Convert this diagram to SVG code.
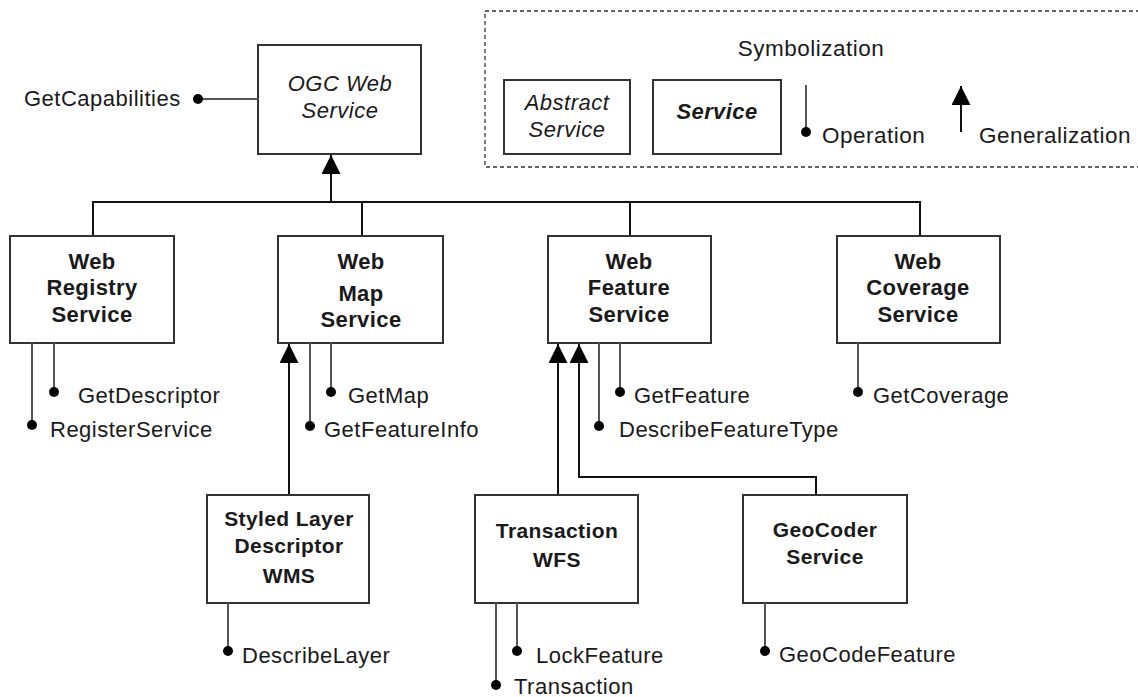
<svg xmlns="http://www.w3.org/2000/svg" width="1138" height="697" viewBox="0 0 1138 697">
<style>
  .box { fill: #fff; stroke: #333; stroke-width: 2; }
  .t { font-family: "Liberation Sans", Arial, sans-serif; font-size: 22px; fill: #1a1a1a; letter-spacing: 0.5px; }
  .b { font-weight: bold; text-anchor: middle; letter-spacing: 0.4px; }
  .s { font-size: 21px; }
  .i { font-style: italic; text-anchor: middle; }
  .lg { font-size: 22.5px; }
  .op { stroke: #555; stroke-width: 2; fill: none; }
  .dot { fill: #000; }
  .gen { stroke: #111; stroke-width: 2; fill: none; }
  .legend { fill: none; stroke: #333; stroke-width: 1.3; stroke-dasharray: 4 3; }
</style>
<defs>
  <marker id="tri" viewBox="0 0 19 19" refX="19" refY="9.5" markerWidth="19" markerHeight="19" markerUnits="userSpaceOnUse" orient="auto">
    <path d="M0,0 L19,9.5 L0,19 Z" fill="#000"/>
  </marker>
</defs>
<rect width="1138" height="697" fill="#fff"/>

<g id="legend">
  <rect class="legend" x="485" y="11" width="670" height="156"/>
  <text class="t lg" x="811" y="56" text-anchor="middle">Symbolization</text>
  <rect class="box" x="504" y="80" width="126" height="74"/>
  <text class="t i" x="567" y="110">Abstract</text>
  <text class="t i" x="567" y="137">Service</text>
  <rect class="box" x="653" y="80" width="128" height="74"/>
  <text class="t b" x="717" y="119" font-style="italic">Service</text>
  <line class="op" x1="806" y1="85" x2="806" y2="132" stroke="#333"/>
  <circle class="dot" cx="806" cy="132" r="5"/>
  <text class="t lg" x="822" y="143">Operation</text>
  <line class="gen" x1="961" y1="132" x2="961" y2="86" marker-end="url(#tri)"/>
  <text class="t lg" x="979" y="143">Generalization</text>
</g>

<g id="connectors">
  <path class="gen" d="M93,236 V202 H920 V236 M362,202 V236 M630,202 V236"/>
  <line class="gen" x1="331" y1="202" x2="331" y2="155" marker-end="url(#tri)"/>
  <line class="gen" x1="289" y1="495" x2="289" y2="344" marker-end="url(#tri)"/>
  <line class="gen" x1="558" y1="495" x2="558" y2="344" marker-end="url(#tri)"/>
  <path class="gen" d="M816,495 V477 H579 V344" marker-end="url(#tri)"/>
</g>

<g id="ogc">
  <rect class="box" x="258" y="45" width="163" height="109"/>
  <text class="t i" x="340" y="91">OGC Web</text>
  <text class="t i" x="340" y="118">Service</text>
  <line class="op" x1="198" y1="99" x2="258" y2="99"/>
  <circle class="dot" cx="198" cy="99" r="5"/>
  <text class="t" x="24" y="106">GetCapabilities</text>
</g>

<g id="wrs">
  <rect class="box" x="10" y="236" width="164" height="107"/>
  <text class="t b" x="92" y="269">Web</text>
  <text class="t b" x="92" y="295">Registry</text>
  <text class="t b" x="92" y="322">Service</text>
  <line class="op" x1="32" y1="343" x2="32" y2="425"/>
  <circle class="dot" cx="32" cy="425" r="5"/>
  <line class="op" x1="54" y1="343" x2="54" y2="392"/>
  <circle class="dot" cx="54" cy="392" r="5"/>
  <text class="t" x="78" y="403">GetDescriptor</text>
  <text class="t" x="50" y="437">RegisterService</text>
</g>

<g id="wms">
  <rect class="box" x="278" y="236" width="165" height="107"/>
  <text class="t b" x="361" y="269">Web</text>
  <text class="t b" x="361" y="301">Map</text>
  <text class="t b" x="361" y="327">Service</text>
  <line class="op" x1="310" y1="343" x2="310" y2="426"/>
  <circle class="dot" cx="310" cy="426" r="5"/>
  <line class="op" x1="331" y1="343" x2="331" y2="392"/>
  <circle class="dot" cx="331" cy="392" r="5"/>
  <text class="t" x="348" y="403">GetMap</text>
  <text class="t" x="324" y="437">GetFeatureInfo</text>
</g>

<g id="wfs">
  <rect class="box" x="548" y="236" width="163" height="107"/>
  <text class="t b" x="629" y="269">Web</text>
  <text class="t b" x="629" y="295">Feature</text>
  <text class="t b" x="629" y="322">Service</text>
  <line class="op" x1="599" y1="343" x2="599" y2="426"/>
  <circle class="dot" cx="599" cy="426" r="5"/>
  <line class="op" x1="620" y1="343" x2="620" y2="392"/>
  <circle class="dot" cx="620" cy="392" r="5"/>
  <text class="t" x="634" y="403">GetFeature</text>
  <text class="t" x="619" y="437">DescribeFeatureType</text>
</g>

<g id="wcs">
  <rect class="box" x="837" y="236" width="163" height="107"/>
  <text class="t b" x="918" y="269">Web</text>
  <text class="t b" x="918" y="295">Coverage</text>
  <text class="t b" x="918" y="322">Service</text>
  <line class="op" x1="858" y1="343" x2="858" y2="392"/>
  <circle class="dot" cx="858" cy="392" r="5"/>
  <text class="t" x="873" y="403">GetCoverage</text>
</g>

<g id="sld">
  <rect class="box" x="207" y="495" width="162" height="108"/>
  <text class="t b s" x="289" y="526">Styled Layer</text>
  <text class="t b s" x="289" y="553">Descriptor</text>
  <text class="t b s" x="289" y="583">WMS</text>
  <line class="op" x1="228" y1="603" x2="228" y2="651"/>
  <circle class="dot" cx="228" cy="651" r="5"/>
  <text class="t" x="242" y="663">DescribeLayer</text>
</g>

<g id="twfs">
  <rect class="box" x="475" y="495" width="163" height="108"/>
  <text class="t b s" x="557" y="538">Transaction</text>
  <text class="t b s" x="557" y="567">WFS</text>
  <line class="op" x1="496" y1="603" x2="496" y2="685"/>
  <circle class="dot" cx="496" cy="685" r="5"/>
  <line class="op" x1="517" y1="603" x2="517" y2="651"/>
  <circle class="dot" cx="517" cy="651" r="5"/>
  <text class="t" x="536" y="663">LockFeature</text>
  <text class="t" x="514" y="694">Transaction</text>
</g>

<g id="geocoder">
  <rect class="box" x="743" y="495" width="164" height="108"/>
  <text class="t b s" x="825" y="537">GeoCoder</text>
  <text class="t b s" x="825" y="564">Service</text>
  <line class="op" x1="765" y1="603" x2="765" y2="651"/>
  <circle class="dot" cx="765" cy="651" r="5"/>
  <text class="t" x="779" y="662">GeoCodeFeature</text>
</g>
</svg>
